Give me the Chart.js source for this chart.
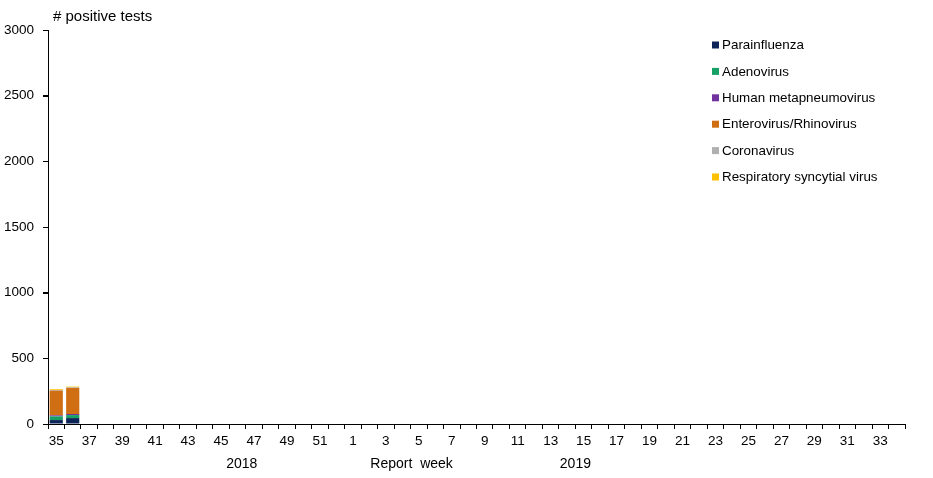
<!DOCTYPE html>
<html>
<head>
<meta charset="utf-8">
<script src="https://cdn.jsdelivr.net/npm/chart.js@4/dist/chart.umd.min.js"></script>
<style>
  html, body { margin: 0; padding: 0; background: #fff; }
  #wrap { width: 933px; height: 478px; }
</style>
</head>
<body>
<div id="wrap"><canvas id="chart"></canvas></div>
<script>
// report weeks 35-52 of 2018, then 1-34 of 2019
var weeks = ['35','36','37','38','39','40','41','42','43','44','45','46','47','48','49','50','51','52',
             '1','2','3','4','5','6','7','8','9','10','11','12','13','14','15','16','17','18','19','20',
             '21','22','23','24','25','26','27','28','29','30','31','32','33','34'];

var parainfluenza = [30, 45];
var adenovirus    = [28, 23];
var metapneumo    = [8, 8];
var enteroRhino   = [188, 198];
var coronavirus   = [5, 5];
var rsv           = [6, 6];

var yTicks = [0, 500, 1000, 1500, 2000, 2500, 3000];

var FONT = 'Liberation Sans, Arial, sans-serif';

// axis captions, y tick marks and the custom legend
var extras = {
  id: 'extras',
  afterDraw: function (chart) {
    var c = chart.ctx;
    var x = chart.scales.x;
    var y = chart.scales.y;
    var left = chart.chartArea.left;
    c.save();

    // small tick marks left of the y axis
    c.strokeStyle = '#000';
    c.lineWidth = 1.2;
    c.beginPath();
    yTicks.forEach(function (v) {
      var py = Math.round(y.getPixelForValue(v)) + 0.5;
      c.moveTo(left - 5, py);
      c.lineTo(left, py);
    });
    c.stroke();

    c.fillStyle = '#000';
    c.font = '15px ' + FONT;
    c.textAlign = 'left';
    c.textBaseline = 'middle';
    c.fillText('# positive tests', 53, 17);

    c.font = '14px ' + FONT;
    c.textAlign = 'center';
    var mid = function (a, b) { return (x.getPixelForValue(a) + x.getPixelForValue(b)) / 2; };
    c.fillText('2018', mid(11, 12) - 4, 464);
    c.fillText('Report  week', mid(21, 22) + 1, 464);
    c.fillText('2019', mid(31, 32), 464);

    // legend
    c.font = '13.4px ' + FONT;
    c.textAlign = 'left';
    chart.data.datasets.forEach(function (ds, i) {
      var ly = 45 + i * 26.4;
      c.fillStyle = ds.backgroundColor;
      c.fillRect(712, ly - 3.5, 7, 7);
      c.fillStyle = '#000';
      c.fillText(ds.label, 722, ly + 0.5);
    });
    c.restore();
  }
};

new Chart(document.getElementById('chart'), {
  type: 'bar',
  data: {
    labels: weeks,
    datasets: [
      { label: 'Parainfluenza', data: parainfluenza, backgroundColor: '#0c2458' },
      { label: 'Adenovirus', data: adenovirus, backgroundColor: '#16a065' },
      { label: 'Human metapneumovirus', data: metapneumo, backgroundColor: '#7232a0' },
      { label: 'Enterovirus/Rhinovirus', data: enteroRhino, backgroundColor: '#cf6e12' },
      { label: 'Coronavirus', data: coronavirus, backgroundColor: '#b0b0b0' },
      { label: 'Respiratory syncytial virus', data: rsv, backgroundColor: '#ffc000' }
    ]
  },
  options: {
    responsive: true,
    maintainAspectRatio: false,
    animation: false,
    layout: { padding: { left: 0, right: 28, top: 30, bottom: 0 } },
    datasets: { bar: { barPercentage: 0.8, categoryPercentage: 1.0 } },
    plugins: {
      legend: { display: false },
      tooltip: { enabled: false }
    },
    scales: {
      x: {
        stacked: true,
        grid: { display: true, drawOnChartArea: false, drawTicks: true, tickLength: 5, color: '#000', offset: true },
        border: { display: true, color: '#000', width: 1 },
        ticks: {
          autoSkip: false,
          maxRotation: 0,
          padding: 4,
          color: '#000',
          font: { family: FONT, size: 13.5 },
          callback: function (v, i) { return i % 2 === 0 ? weeks[i] : ''; }
        },
        afterFit: function (s) { s.height = 54; }
      },
      y: {
        stacked: true,
        min: 0,
        max: 3000,
        afterBuildTicks: function (s) { s.ticks = yTicks.map(function (v) { return { value: v }; }); },
        grid: { display: true, drawOnChartArea: false, drawTicks: true, tickLength: 5, color: '#000' },
        border: { display: true, color: '#000', width: 1 },
        ticks: {
          padding: 9,
          color: '#000',
          font: { family: FONT, size: 13.5 },
          callback: function (v) { return String(v); }
        },
        afterFit: function (s) { s.width = 48; }
      }
    }
  },
  plugins: [extras]
});
</script>
</body>
</html>
